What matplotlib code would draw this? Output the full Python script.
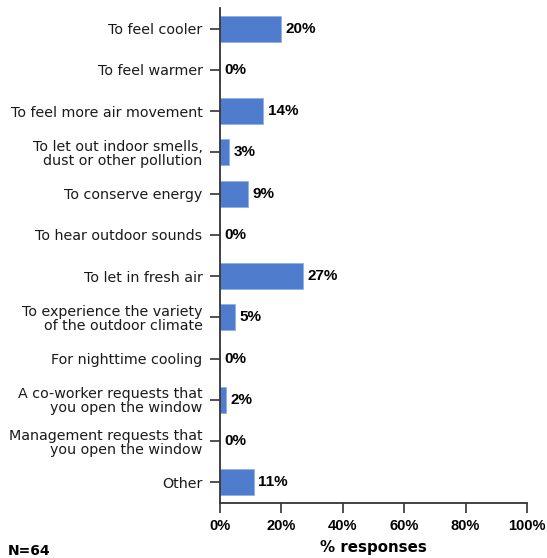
import matplotlib.pyplot as plt

plt.rcParams['font.family'] = ['DejaVu Sans']

# ------------------------
# Data
# ------------------------
reasons = [
    "To feel cooler",
    "To feel warmer",
    "To feel more air movement",
    "To let out indoor smells,\ndust or other pollution",
    "To conserve energy",
    "To hear outdoor sounds",
    "To let in fresh air",
    "To experience the variety\nof the outdoor climate",
    "For nighttime cooling",
    "A co-worker requests that\nyou open the window",
    "Management requests that\nyou open the window",
    "Other",
]
pct = [20, 0, 14, 3, 9, 0, 27, 5, 0, 2, 0, 11]
xticks = [0, 20, 40, 60, 80, 100]
n_label = "N=64"

# ------------------------
# Plot
# ------------------------
fig = plt.figure(figsize=(5.47, 5.58), dpi=100)
ax = fig.add_axes([0.402, 0.0986, 0.5615, 0.887])

ypos = list(range(len(reasons)))
ax.barh(ypos, pct, height=0.63, color='#4f7ccc', edgecolor='#8fb0e6', linewidth=0.6)

for y, v in zip(ypos, pct):
    ax.text(v + 1.5, y, f"{v}%", va='center', ha='left', fontsize=11,
            weight='bold', family='Liberation Sans')

ax.set_ylim(len(reasons) - 0.5, -0.5)
ax.set_xlim(0, 100)
ax.set_yticks(ypos)
ax.set_yticklabels(reasons, fontsize=10.3, color='#1a1a1a', linespacing=1.0)
ax.set_xticks(xticks)
ax.set_xticklabels([f"{t}%" for t in xticks], fontsize=10.5, weight='bold',
                   family='Liberation Sans')
ax.set_xlabel("% responses", fontsize=10.8, weight='bold', labelpad=5)

for s in ['top', 'right']:
    ax.spines[s].set_visible(False)
for s in ['left', 'bottom']:
    ax.spines[s].set_linewidth(1.3)
    ax.spines[s].set_color('#333333')
ax.tick_params(axis='both', direction='out', length=7.5, width=1.2, color='#333333')
ax.tick_params(axis='y', pad=5)
ax.tick_params(axis='x', pad=4)

fig.text(0.014, 0.0, n_label, fontsize=10, weight='bold', ha='left', va='bottom')

plt.savefig("out.png", dpi=100)
